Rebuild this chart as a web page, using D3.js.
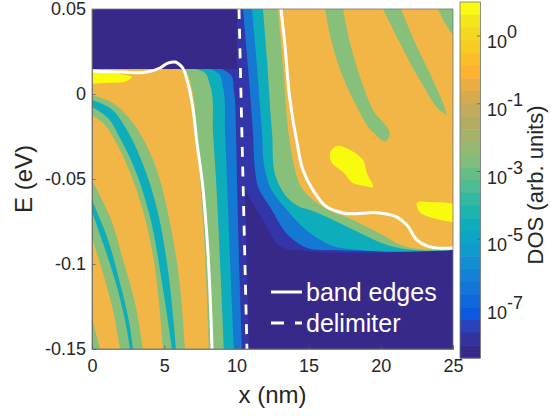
<!DOCTYPE html>
<html>
<head>
<meta charset="utf-8">
<script src="https://cdn.jsdelivr.net/npm/d3@7"></script>
<style>
  body { margin: 0; background: #fff; }
  text { font-family: "Liberation Sans", Arial, sans-serif; fill: #262626; }
  .axis text { font-size: 18px; }
  .axis path, .axis line { stroke: #555; stroke-width: 0.7px; }
</style>
</head>
<body>
<script>
// tick values
const xTicks = [0, 5, 10, 15, 20, 25];
const yTicks = [0.05, 0, -0.05, -0.1, -0.15];
const cbarExponents = ["0", "-1", "-3", "-5", "-7"];

// fill colours of the contour levels
const navy = "#37298a", indigo = "#3236a8", blue = "#1578d2", teal = "#0dadbb",
  green = "#87c07a", orange = "#f1b646", yellow = "#f9fb0e";

// colorbar steps, top to bottom
const cbarColors = ["#f9fb15", "#f3e71c", "#f2d81f", "#f6cb22", "#fbbd29", "#fdb32f", "#eaad42", "#d6ab50",
  "#c2ab5a", "#b2ac62", "#a7b16a", "#96b871", "#82bd79", "#68bd86", "#4dbc95", "#33b9a2", "#1db3ae", "#0eadbb",
  "#0ba6c6", "#109bcd", "#148ed3", "#1581d6", "#1275d8", "#0e68dc", "#0c5ae0", "#2b42bb", "#34329f", "#37298a"];

// contour edges, [x nm, E eV]
const navyLowerEdge = [[25, -0.0918], [14.2, -0.0918], [13.24, -0.0906], [11.84, -0.0741], [10.6, -0.0565]];

const leftBlueEdge = [[9.0, 0.0147], [9.63, 0.0112], [9.83, 0.0024], [9.97, -0.0212], [10.04, -0.0506], [10.18, -0.0976], [10.39, -0.15]];
const leftTealEdge = [[8.17, 0.0147], [8.8, 0.0118], [9.07, 0.0041], [9.21, -0.0212], [9.35, -0.0506], [9.56, -0.0976], [9.83, -0.15]];
const leftGreenEdge = [[7.13, 0.0147], [7.83, 0.0124], [8.17, 0.0053], [8.38, -0.0229], [8.59, -0.0506], [8.86, -0.0976], [9.14, -0.15]];
const leftOrangeEdge = [[5.96, 0.0147], [6.51, 0.0124], [6.93, 0.0024], [7.2, -0.0212], [7.48, -0.0506], [7.76, -0.0841], [8.1, -0.15]];

const rightBlueEdge = [[10.46, 0.05], [10.8, 0.0159], [11.15, -0.0229], [11.29, -0.0447], [11.5, -0.0547], [12.33, -0.0665], [13.71, -0.0841], [14.89, -0.0906], [16.69, -0.0918], [25, -0.0918]];
const rightTealEdge = [[11.08, 0.05], [11.43, 0.0159], [11.77, -0.0229], [11.98, -0.0447], [12.33, -0.0547], [13.5, -0.0682], [15.1, -0.0818], [16.48, -0.0888], [18.56, -0.0918], [25, -0.0918]];
const rightGreenEdge = [[11.84, 0.05], [12.12, 0.02], [12.47, -0.0229], [12.81, -0.0506], [13.37, -0.0594], [14.4, -0.0665], [15.1, -0.0682], [16.69, -0.0741], [18.56, -0.0818], [20.43, -0.0888], [22.23, -0.0918], [25, -0.0918]];
const rightOrangeEdge = [[12.88, 0.05], [13.23, 0.0159], [13.71, -0.0288], [14.06, -0.0447], [14.4, -0.0535], [15.79, -0.0653], [18.07, -0.0741], [19.74, -0.0812], [21.81, -0.09], [22.71, -0.0912], [25, -0.0912]];

// green / teal stripes in the left part
const stripeAGreenUpper = [[0, -0.0006], [1.45, -0.0053], [2.84, -0.0171], [4.02, -0.0347], [4.71, -0.0506], [5.26, -0.07], [5.96, -0.1035], [6.44, -0.15]];
const stripeAGreenLower = [[0, -0.0124], [0.76, -0.0171], [1.8, -0.0306], [2.56, -0.0447], [3.46, -0.0665], [4.16, -0.0918], [4.92, -0.15]];
const stripeATealUpper = [[0, -0.0035], [1.25, -0.0082], [2.42, -0.0212], [3.32, -0.0371], [3.88, -0.0494], [4.57, -0.07], [5.26, -0.1035], [5.82, -0.15]];
const stripeATealLower = [[0, -0.0076], [1.04, -0.0135], [2.01, -0.0271], [2.7, -0.0388], [3.25, -0.0506], [3.95, -0.07], [4.85, -0.1112], [5.54, -0.15]];
const stripeBGreenUpper = [[0, -0.0506], [1.25, -0.0724], [2.15, -0.0976], [2.98, -0.1229], [3.53, -0.15]];
const stripeBGreenLower = [[0, -0.0847], [0.76, -0.1053], [1.45, -0.1271], [1.94, -0.15]];
const stripeBTealUpper = [[0, -0.0624], [1.04, -0.0841], [1.94, -0.1112], [2.63, -0.1371], [2.84, -0.15]];
const stripeBTealLower = [[0, -0.0694], [0.76, -0.0876], [1.73, -0.1135], [2.42, -0.1388], [2.63, -0.15]];
const stripeCGreen = [[0, -0.1318], [0.55, -0.15]];

// green tongues in the right part
const tongue1 = [[16.14, 0.05], [16.62, 0.03], [17.38, 0.01], [18.35, -0.0076], [19.46, -0.0224], [20.36, -0.0276], [20.57, -0.0253], [19.46, -0.0094], [18.56, 0.01], [17.87, 0.03], [17.38, 0.05]];
const tongue2 = [[20.15, 0.05], [21.33, 0.03], [22.71, 0.0082], [24.45, -0.0118], [24.58, -0.0124], [24.52, -0.0106], [23.61, 0.0082], [22.51, 0.0276], [21.4, 0.05]];
const tongue3 = [[23.96, 0.05], [24.52, 0.0406], [25, 0.0347]];

// yellow blobs
const blob1 = [[16.48, -0.0347], [16.97, -0.0306], [17.87, -0.0329], [18.77, -0.0388], [19.04, -0.0465], [19.46, -0.0547], [18.91, -0.0541], [18.07, -0.0524], [17.38, -0.0459], [16.62, -0.0406]];
const blob2 = [[22.5, -0.0641], [23.4, -0.0635], [25.6, -0.0665], [25.6, -0.0745], [23.6, -0.0729], [22.7, -0.0694]];
const blob3 = [[-0.6, 0.013], [0.8, 0.0127], [1.9, 0.0118], [2.77, 0.01], [2.3, 0.0072], [1.2, 0.0066], [-0.6, 0.0072]];

// white lines
const bandEdgeLeft = [[0, 0.0135], [2.15, 0.0129], [3.81, 0.0129], [4.71, 0.0153], [5.26, 0.0182], [5.75, 0.0188], [6.23, 0.0159], [6.58, 0.0082], [6.93, -0.0053], [7.27, -0.0288], [7.62, -0.0506], [7.96, -0.0841], [8.31, -0.15]];
const bandEdgeRight = [[13.09, 0.05], [13.37, 0.0277], [13.71, -0.0035], [14.2, -0.0288], [14.61, -0.0447], [15.3, -0.0565], [16.27, -0.0665], [17.38, -0.07], [19.94, -0.07], [21.12, -0.0724], [21.81, -0.0771], [22.51, -0.0859], [23.2, -0.0894], [25, -0.0906]];
const delimiter = [[10.18, 0.05], [10.73, -0.15]];

const w = 551, h = 416;
const left = 92, right = 453, top_ = 9, bottom = 349;

const xScale = d3.scaleLinear().domain([0, 25]).range([left, right]);
const yScale = d3.scaleLinear().domain([-0.15, 0.05]).range([bottom, top_]);
// colorbar labels are evenly spaced, so position them by their index
const cScale = d3.scaleLinear().domain([0, 4]).range([36, 307]);

const line = d3.line().x(d => xScale(d[0])).y(d => yScale(d[1])).curve(d3.curveCatmullRom.alpha(1));
const blobLine = d3.line().x(d => xScale(d[0])).y(d => yScale(d[1])).curve(d3.curveCatmullRomClosed);

const svg = d3.select("body").append("svg").attr("width", w).attr("height", h).style("display", "block");

svg.append("clipPath").attr("id", "plot-clip").append("rect")
  .attr("x", left).attr("y", top_).attr("width", right - left).attr("height", bottom - top_);

const plot = svg.append("g").attr("clip-path", "url(#plot-clip)");

function corners(list) {
  return list.map(d => "L" + xScale(d[0]) + "," + yScale(d[1])).join("");
}
// region bounded by a smooth edge, closed through corner points
function band(edge, cornerList, color) {
  plot.append("path").attr("d", line(edge) + corners(cornerList) + "Z").attr("fill", color);
}
// region between two smooth edges
function ribbon(a, b, color) {
  const back = line(b.slice().reverse()).replace("M", "L");
  plot.append("path").attr("d", line(a) + back + "Z").attr("fill", color);
}

//background levels
plot.append("rect").attr("x", left).attr("y", top_).attr("width", right - left).attr("height", bottom - top_).attr("fill", indigo);
band([[0, 0.05], [10.04, 0.05]], [[10.04, 0.0147], [0, 0.0147]], navy);
band(navyLowerEdge, [[10.87, -0.15], [25, -0.15]], navy);

//right part
band(rightBlueEdge, [[25, 0.05]], blue);
band(rightTealEdge, [[25, 0.05]], teal);
band(rightGreenEdge, [[25, 0.05]], green);
band(rightOrangeEdge, [[25, 0.05]], orange);
band(tongue1, [], green);
band(tongue2, [], green);
band(tongue3, [[25, 0.05]], green);

//left part
band(leftBlueEdge, [[0, -0.15], [0, 0.0147]], blue);
band(leftTealEdge, [[0, -0.15], [0, 0.0147]], teal);
band(leftGreenEdge, [[0, -0.15], [0, 0.0147]], green);
band(leftOrangeEdge, [[0, -0.15], [0, 0.0147]], orange);
ribbon(stripeAGreenUpper, stripeAGreenLower, green);
ribbon(stripeATealUpper, stripeATealLower, teal);
ribbon(stripeBGreenUpper, stripeBGreenLower, green);
ribbon(stripeBTealUpper, stripeBTealLower, teal);
band(stripeCGreen, [[0, -0.15]], green);

[blob1, blob2, blob3].forEach(b => {
  plot.append("path").attr("d", blobLine(b)).attr("fill", yellow);
});

//white lines
[bandEdgeLeft, bandEdgeRight].forEach(l => {
  plot.append("path").attr("d", line(l)).attr("fill", "none").attr("stroke", "#fff").attr("stroke-width", 3);
});
plot.append("path").attr("d", d3.line().x(d => xScale(d[0])).y(d => yScale(d[1]))(delimiter))
  .attr("fill", "none").attr("stroke", "#fff").attr("stroke-width", 2.8).attr("stroke-dasharray", "10,9.7");

//legend
svg.append("line").attr("x1", 271).attr("x2", 302).attr("y1", 292).attr("y2", 292)
  .attr("stroke", "#fff").attr("stroke-width", 3);
svg.append("line").attr("x1", 271).attr("x2", 302).attr("y1", 323).attr("y2", 323)
  .attr("stroke", "#fff").attr("stroke-width", 3).attr("stroke-dasharray", "13,11");
svg.append("text").attr("x", 306).attr("y", 301).style("font-size", "25px").style("fill", "#fff").text("band edges");
svg.append("text").attr("x", 306).attr("y", 332).style("font-size", "25px").style("fill", "#fff").text("delimiter");

//axes
svg.append("g").attr("class", "axis").attr("transform", `translate(0, ${bottom})`)
  .call(d3.axisBottom(xScale).tickValues(xTicks).tickFormat(d => d).tickSize(-3.6).tickPadding(10));
svg.append("g").attr("class", "axis").attr("transform", `translate(${left}, 0)`)
  .call(d3.axisLeft(yScale).tickValues(yTicks).tickFormat(d => String(d)).tickSize(-3.6).tickPadding(6));
svg.append("rect").attr("x", left).attr("y", top_).attr("width", right - left).attr("height", bottom - top_)
  .attr("fill", "none").attr("stroke", "#777").attr("stroke-width", 0.8);

svg.append("text").attr("x", (left + right) / 2).attr("y", 403).attr("text-anchor", "middle")
  .style("font-size", "24px").text("x (nm)");
svg.append("text").attr("transform", "translate(32,179) rotate(-90)").attr("text-anchor", "middle")
  .style("font-size", "24px").text("E (eV)");

//colorbar
const cbarTop = 2, cbarBottom = 358, cbarLeft = 460, cbarRight = 480.5;
const stepScale = d3.scaleBand().domain(d3.range(cbarColors.length)).range([cbarTop, cbarBottom]);
svg.append("g").selectAll("rect").data(cbarColors).enter().append("rect")
  .attr("x", cbarLeft).attr("width", cbarRight - cbarLeft)
  .attr("y", (d, i) => stepScale(i)).attr("height", stepScale.bandwidth() + 0.5)
  .attr("fill", d => d);
svg.append("rect").attr("x", cbarLeft).attr("y", cbarTop).attr("width", cbarRight - cbarLeft).attr("height", cbarBottom - cbarTop)
  .attr("fill", "none").attr("stroke", "#777").attr("stroke-width", 0.8);

const cTicks = svg.append("g").selectAll("g").data(cbarExponents).enter().append("g")
  .attr("transform", (d, i) => `translate(0, ${cScale(i)})`);
cTicks.append("line").attr("x1", cbarRight - 3.6).attr("x2", cbarRight).attr("stroke", "#555").attr("stroke-width", 0.7);
const cLabel = cTicks.append("text").attr("x", 487).attr("y", 12).style("font-size", "18px");
cLabel.append("tspan").text("10");
cLabel.append("tspan").attr("dy", -10).text(d => d);

svg.append("text").attr("transform", "translate(543,185) rotate(-90)").attr("text-anchor", "middle")
  .style("font-size", "22px").text("DOS (arb. units)");
</script>
</body>
</html>
